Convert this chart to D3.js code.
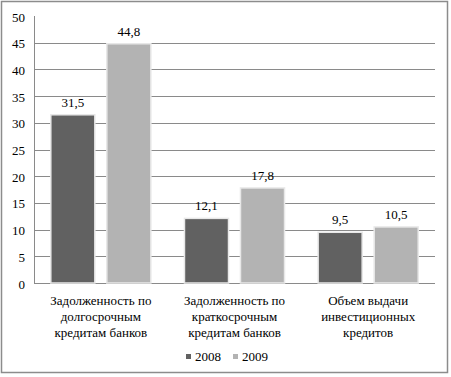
<!DOCTYPE html>
<html>
<head>
<meta charset="utf-8">
<script src="https://cdn.jsdelivr.net/npm/d3@7"></script>
<style>
  body { margin: 0; }
  #chart { position: relative; width: 451px; height: 377px; }
  #chart svg { position: absolute; left: 0; top: 0; }
  .lbl {
    position: absolute;
    font-family: "Liberation Serif", "Times New Roman", Tinos;
    font-size: 13px;
    line-height: 13px;
    color: #000;
    white-space: nowrap;
  }
</style>
</head>
<body>
<div id="chart"></div>
<script>
// Bank credit indicators, 2008 vs 2009
const categories = [
  ["Задолженность по", "долгосрочным", "кредитам банков"],
  ["Задолженность по", "краткосрочным", "кредитам банков"],
  ["Объем выдачи", "инвестиционных", "кредитов"]
];
const years = ["2008", "2009"];
const values2008 = [31.5, 12.1, 9.5];
const values2009 = [44.8, 17.8, 10.5];
const yTicks = [0, 5, 10, 15, 20, 25, 30, 35, 40, 45, 50];

const width = 451, height = 377;
const margin = { top: 16, right: 16, bottom: 94, left: 34 };
const colors = { "2008": "#616161", "2009": "#b3b3b3" };

const chart = d3.select("#chart");
const svg = chart.append("svg")
  .attr("width", width)
  .attr("height", height);

// html text label; (x, y) is the baseline anchor point
function label(sel, x, y, anchor) {
  const shift = anchor === "end" ? "-100%" : anchor === "middle" ? "-50%" : "0";
  return sel
    .attr("class", "lbl")
    .style("left", (d, i) => x(d, i) + "px")
    .style("top", (d, i) => (y(d, i) - 10) + "px")
    .style("transform", `translateX(${shift})`);
}

// outer frame
svg.append("rect")
  .attr("x", 1.5).attr("y", 1.5)
  .attr("width", width - 5).attr("height", height - 6)
  .attr("fill", "#fff")
  .attr("stroke", "#8c8c8c")
  .attr("stroke-width", 1.5);

const x0 = d3.scaleBand()
  .domain(d3.range(categories.length))
  .range([margin.left, width - margin.right]);

const x1 = d3.scaleBand()
  .domain(years)
  .range([0, x0.bandwidth()])
  .paddingInner(0.214)
  .paddingOuter(0.3);

const y = d3.scaleLinear()
  .domain([0, 50])
  .range([height - margin.bottom, margin.top]);

// grid lines
svg.append("g")
  .selectAll("line")
  .data(yTicks.filter(d => d > 0 && d < 50))
  .join("line")
  .attr("x1", margin.left)
  .attr("x2", width - margin.right)
  .attr("y1", d => Math.round(y(d)) + 0.5)
  .attr("y2", d => Math.round(y(d)) + 0.5)
  .attr("stroke", "#8a8a8a");

// axis lines
svg.append("line")
  .attr("x1", margin.left + 0.5).attr("x2", margin.left + 0.5)
  .attr("y1", y(50)).attr("y2", y(0))
  .attr("stroke", "#8a8a8a");
svg.append("line")
  .attr("x1", margin.left).attr("x2", width - margin.right)
  .attr("y1", Math.round(y(0)) + 0.5).attr("y2", Math.round(y(0)) + 0.5)
  .attr("stroke", "#8a8a8a");

const series = [
  { year: "2008", values: values2008 },
  { year: "2009", values: values2009 }
];
const bars = [];
series.forEach(s => s.values.forEach((v, i) => bars.push({ cat: i, year: s.year, value: v })));
const barX = d => x0(d.cat) + x1(d.year);

svg.append("g")
  .selectAll("rect")
  .data(bars)
  .join("rect")
  .attr("x", barX)
  .attr("y", d => y(d.value))
  .attr("width", x1.bandwidth())
  .attr("height", d => y(0) - y(d.value))
  .attr("fill", d => colors[d.year])
  .attr("stroke", "#e8e8e8")
  .attr("stroke-width", 1.5);

// y tick labels
chart.selectAll("div.tick")
  .data(yTicks)
  .join("div")
  .call(label, () => margin.left - 9, d => y(d) + 4.5, "end")
  .text(d => d);

// value labels
chart.selectAll("div.value")
  .data(bars)
  .join("div")
  .call(label, d => barX(d) + x1.bandwidth() / 2, d => y(d.value) - 9, "middle")
  .text(d => String(d.value).replace(".", ","));

// category labels
const catLines = [];
categories.forEach((lines, i) => lines.forEach((t, j) => catLines.push({ cat: i, line: j, text: t })));
chart.selectAll("div.cat")
  .data(catLines)
  .join("div")
  .call(label, d => x0(d.cat) + x0.bandwidth() / 2, d => y(0) + 21 + d.line * 16, "middle")
  .text(d => d.text);

// legend
const legendX = [186, 233];
svg.append("g")
  .selectAll("rect")
  .data(years)
  .join("rect")
  .attr("x", (d, i) => legendX[i]).attr("y", 354)
  .attr("width", 5).attr("height", 5)
  .attr("fill", d => colors[d]);
chart.selectAll("div.legend")
  .data(years)
  .join("div")
  .call(label, (d, i) => legendX[i] + 9, () => 360, "start")
  .text(d => d);
</script>
</body>
</html>
